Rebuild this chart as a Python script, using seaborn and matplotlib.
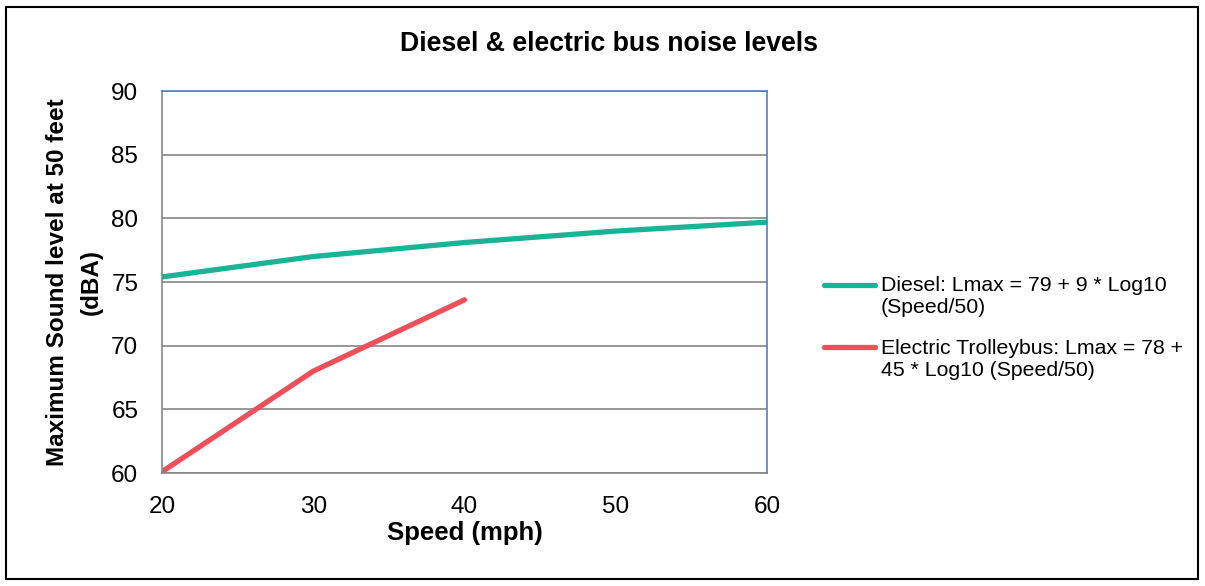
import seaborn as sns
import matplotlib.pyplot as plt
import pandas as pd
from matplotlib.patches import Rectangle

speed = [20, 30, 40, 50, 60]
diesel = [75.4, 77.0, 78.1, 79.0, 79.7]
electric_speed = [20, 30, 40]
electric = [60.1, 68.0, 73.6]
diesel_label = "Diesel: Lmax = 79 + 9 * Log10\n(Speed/50)"
electric_label = "Electric Trolleybus: Lmax = 78 +\n45 * Log10 (Speed/50)"

df = pd.concat([
    pd.DataFrame({"Speed": speed, "Level": diesel, "Series": diesel_label}),
    pd.DataFrame({"Speed": electric_speed, "Level": electric, "Series": electric_label}),
])

sns.set_style("white")
plt.rcParams['font.family'] = ['Liberation Sans', 'DejaVu Sans']
for key in ['text.color', 'axes.labelcolor', 'xtick.color', 'ytick.color']:
    plt.rcParams[key] = 'black'

fig = plt.figure(figsize=(12.05, 5.86), dpi=100)
ax = fig.add_axes([0.1344, 0.1928, 0.5021, 0.6519])

palette = {diesel_label: "#17b497", electric_label: "#ef4f5a"}
sns.lineplot(data=df, x="Speed", y="Level", hue="Series", palette=palette,
             linewidth=3.8, ax=ax, legend=True)

ax.set_xlim(20, 60)
ax.set_ylim(60, 90)
ax.set_xticks(speed)
ax.set_yticks(range(60, 91, 5))
ax.grid(axis='y', color='#868686', linewidth=1.2)
ax.set_axisbelow(True)
ax.tick_params(labelsize=17.5, length=0)
ax.tick_params(axis='x', pad=16.5)
ax.tick_params(axis='y', pad=17)

for side in ['left', 'bottom']:
    ax.spines[side].set_color('#868686')
    ax.spines[side].set_linewidth(1.2)
for side in ['top', 'right']:
    ax.spines[side].set_color('#4f81bd')
    ax.spines[side].set_linewidth(1.2)

ax.set_xlabel("Speed (mph)", fontsize=18.5, fontweight='bold', labelpad=2)
ax.set_ylabel("Maximum Sound level at 50 feet\n(dBA)", fontsize=17.5,
              fontweight='bold', labelpad=6.2, linespacing=1.6)
fig.text(0.505, 0.925, "Diesel & electric bus noise levels", ha='center',
         va='center', fontsize=19.2, fontweight='bold')

leg = ax.legend(loc='center left', bbox_to_anchor=(1.063, 0.38), frameon=False,
                fontsize=15.3, handlelength=2.4, labelspacing=1.03, handletextpad=0.25)
# Excel puts the legend line next to the first text row
for line in leg.get_lines():
    line.set_linewidth(3.8)
    line.set_ydata([y + 8.6 for y in line.get_ydata()])

fig.patches.append(Rectangle((0.005, 0.012), 0.989, 0.976, transform=fig.transFigure,
                             fill=False, edgecolor='black', linewidth=1.5))

fig.savefig("out.png", dpi=100)
